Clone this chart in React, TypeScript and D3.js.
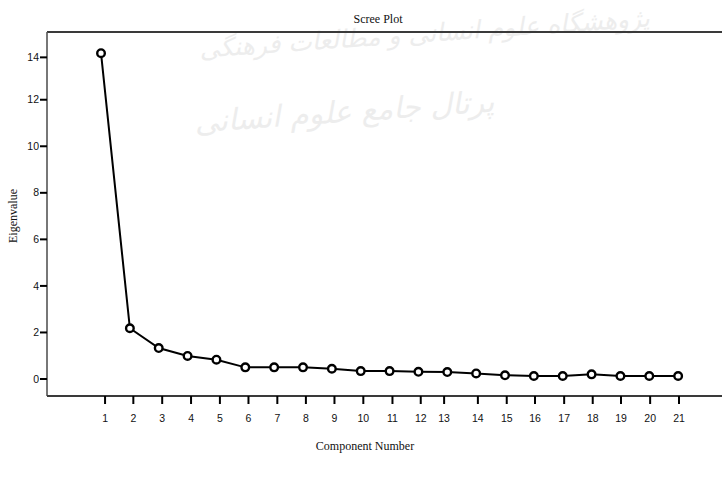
import React, { useEffect, useRef } from "react";
import * as d3 from "d3";

const components = [1, 2, 3, 4, 5, 6, 7, 8, 9, 10, 11, 12, 13, 14, 15, 16, 17, 18, 19, 20, 21];
const eigenvalues = [14.0, 2.18, 1.33, 0.99, 0.83, 0.5, 0.5, 0.5, 0.44, 0.34, 0.34, 0.31, 0.3, 0.24, 0.16, 0.13, 0.13, 0.2, 0.13, 0.13, 0.13];
const xTickLabels = ["1", "2", "3", "4", "5", "6", "7", "8", "9", "10", "11", "12", "13", "14", "15", "16", "17", "18", "19", "20", "21"];
const xTickValues = [1.14, 2.12, 3.12, 4.12, 5.12, 6.11, 7.11, 8.1, 9.09, 10.09, 11.1, 12.08, 12.89, 14.06, 15.06, 16.04, 17.05, 18.04, 19.02, 20.03, 21.03];
const yTickLabels = ["0", "2", "4", "6", "8", "10", "12", "14"];
const yTickValues = [0, 2, 4, 6, 8, 10, 12, 13.82];
const title = "Scree Plot";
const xTitle = "Component Number";
const yTitle = "Eigenvalue";
const watermark = ["پژوهشگاه علوم انسانی و مطالعات فرهنگی", "پرتال جامع علوم انسانی"];

const W = 722;
const H = 483;
const left = 47;
const right = 722;
const top = 32;
const bottom = 396;

export default function App() {
  const ref = useRef<SVGSVGElement>(null);
  useEffect(() => {
    const svg = d3.select(ref.current);
    svg.selectAll("*").remove();
    const x = d3.scaleLinear().domain([-0.872, 22.52]).range([left, right]);
    const y = d3.scaleLinear().domain([-0.73, 14.91]).range([bottom, top]);

    // watermark
    const wm = svg.append("g").attr("fill", "#ededed").attr("font-family", "DejaVu Sans").attr("font-style", "italic");
    wm.append("text").attr("x", 425).attr("y", 42).attr("text-anchor", "middle").attr("font-size", 25).attr("transform", "rotate(-4,425,42)").text(watermark[0]);
    wm.append("text").attr("x", 345).attr("y", 122).attr("text-anchor", "middle").attr("font-size", 30).attr("transform", "rotate(-4,345,122)").text(watermark[1]);

    // frame lines
    svg.append("line").attr("x1", left).attr("x2", right).attr("y1", top).attr("y2", top).attr("stroke", "#3a3a3a").attr("stroke-width", 2);
    svg.append("line").attr("x1", left).attr("x2", left).attr("y1", top).attr("y2", bottom).attr("stroke", "#555").attr("stroke-width", 1.6);
    svg.append("line").attr("x1", left).attr("x2", right).attr("y1", bottom).attr("y2", bottom).attr("stroke", "#3a3a3a").attr("stroke-width", 2);

    // y ticks
    const yt = svg.append("g");
    yTickValues.forEach((v, i) => {
      yt.append("line").attr("x1", left - 7).attr("x2", left).attr("y1", y(v)).attr("y2", y(v)).attr("stroke", "#000").attr("stroke-width", 2);
      yt.append("text").attr("x", left - 8).attr("y", y(v)).attr("dy", "0.35em").attr("text-anchor", "end")
        .attr("font-family", "Liberation Sans").attr("font-size", 10.5).attr("fill", "#111").text(yTickLabels[i]);
    });

    // x ticks
    const xt = svg.append("g");
    xTickValues.forEach((v, i) => {
      xt.append("line").attr("x1", x(v)).attr("x2", x(v)).attr("y1", bottom).attr("y2", bottom + 8).attr("stroke", "#000").attr("stroke-width", 2);
      xt.append("text").attr("x", x(v)).attr("y", bottom + 26).attr("text-anchor", "middle")
        .attr("font-family", "Liberation Sans").attr("font-size", 10.5).attr("fill", "#111").text(xTickLabels[i]);
    });

    // line
    const data = components.map((c, i) => ({ c, v: eigenvalues[i] }));
    const line = d3.line<{ c: number; v: number }>().x(d => x(d.c)).y(d => y(d.v));
    svg.append("path").datum(data).attr("d", line).attr("fill", "none").attr("stroke", "#000").attr("stroke-width", 2);
    svg.append("g").selectAll("circle").data(data).join("circle")
      .attr("cx", d => x(d.c)).attr("cy", d => y(d.v)).attr("r", 3.8)
      .attr("fill", "#fff").attr("stroke", "#000").attr("stroke-width", 2.4);

    // titles
    svg.append("text").attr("x", 378).attr("y", 23).attr("text-anchor", "middle")
      .attr("font-family", "Liberation Serif").attr("font-size", 12).attr("fill", "#111").text(title);
    svg.append("text").attr("x", 365).attr("y", 450).attr("text-anchor", "middle")
      .attr("font-family", "Liberation Serif").attr("font-size", 12).attr("fill", "#111").text(xTitle);
    svg.append("text").attr("transform", "translate(17,216) rotate(-90)").attr("text-anchor", "middle")
      .attr("font-family", "Liberation Serif").attr("font-size", 12).attr("fill", "#111").text(yTitle);
  }, []);
  return (
    <svg ref={ref} width={W} height={H} style={{ position: "absolute", left: 0, top: 0, background: "#fff" }} />
  );
}
